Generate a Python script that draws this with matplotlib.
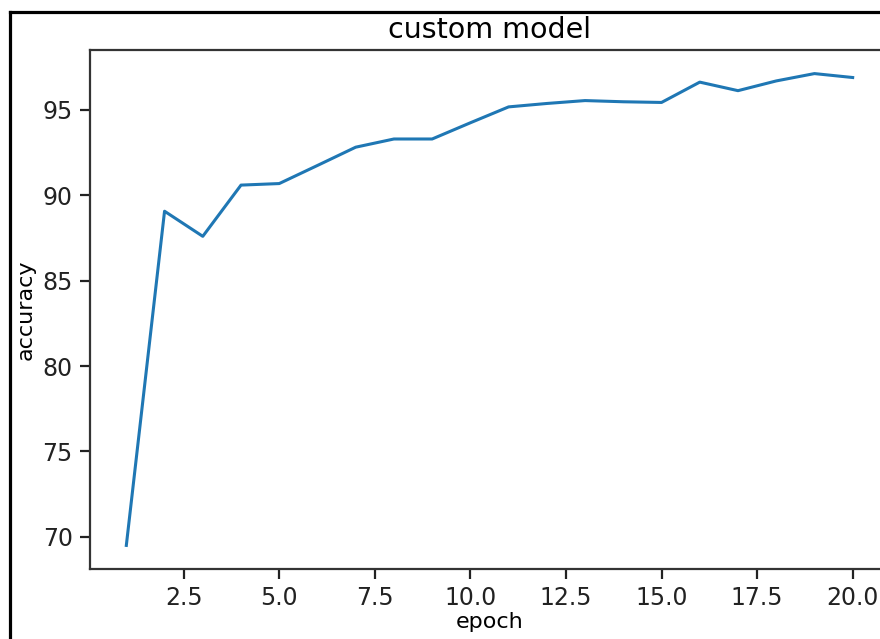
import matplotlib
matplotlib.use("Agg")
import matplotlib.pyplot as plt
from matplotlib import font_manager
from matplotlib.lines import Line2D

# Validation accuracy per training epoch
epochs = list(range(1, 21))
accuracy = [69.5, 89.07, 87.6, 90.6, 90.69, 91.75, 92.82, 93.3, 93.3, 94.25,
            95.18, 95.38, 95.55, 95.48, 95.44, 96.63, 96.13, 96.7, 97.13, 96.9]

# prefer a condensed face for the narrow lettering
family = "DejaVu Sans"
for name in ["DejaVu Sans Condensed"]:
    try:
        font_manager.findfont(name, fallback_to_default=False)
        family = name
        break
    except ValueError:
        pass
plt.rcParams["font.family"] = [family, "DejaVu Sans"]

W, H = 880, 639
fig = plt.figure(figsize=(W / 100, H / 100), dpi=100)
fig.patch.set_facecolor("white")

# axes box in pixel terms (right edge runs past the figure edge)
left_px, right_px, top_px, bottom_px = 90, 889, 50, 569
ax = fig.add_axes([left_px / W, (H - bottom_px) / H,
                   (right_px - left_px) / W, (bottom_px - top_px) / H])

ax.plot(epochs, accuracy, color="#1f77b4", linewidth=2.2)

ax.set_title("custom model", fontsize=20.5, pad=9)
ax.set_xlabel("epoch", fontsize=16, labelpad=1.5)
ax.set_ylabel("accuracy", fontsize=16, labelpad=5)
ax.tick_params(axis="both", labelsize=17, length=7, width=1.6, pad=5.5,
               colors="#222222")
for sp in ax.spines.values():
    sp.set_linewidth(1.6)
    sp.set_color("#333333")

# black frame on the left and top edges
fig.add_artist(Line2D([9.8 / W, 9.8 / W], [0, (H - 12.3) / H],
                      transform=fig.transFigure, color="black", linewidth=2.3))
fig.add_artist(Line2D([9.8 / W, 1.0], [(H - 12.3) / H, (H - 12.3) / H],
                      transform=fig.transFigure, color="black", linewidth=2.3))

fig.savefig("out.png", dpi=100, facecolor="white")
